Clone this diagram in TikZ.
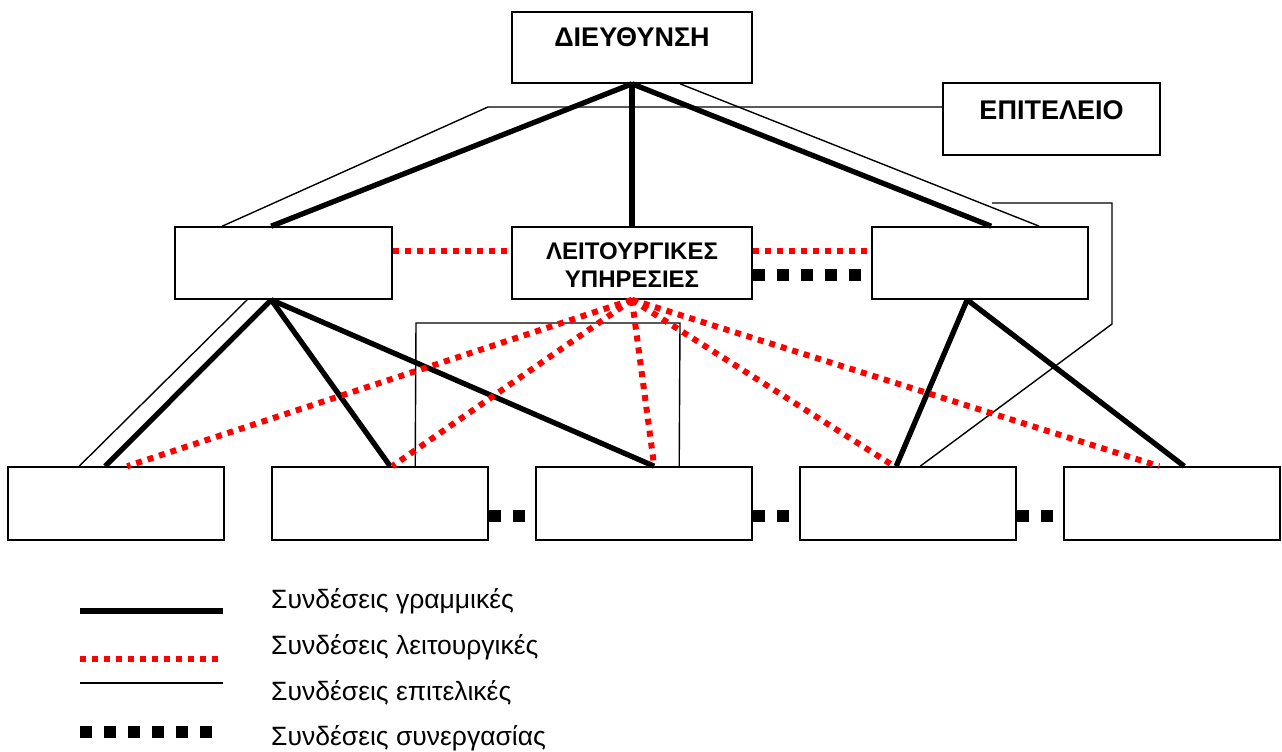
\documentclass[tikz,border=0pt]{standalone}
\usepackage{fontspec}
\setmainfont{Liberation Sans}
\usetikzlibrary{calc}
\begin{document}
\begin{tikzpicture}[x=1pt,y=-1pt,
  unit/.style={draw=black, line width=1.6pt, inner sep=0pt,
    minimum width=216pt, minimum height=72pt},
  wideunit/.style={unit, minimum width=240pt, minimum height=71pt},
  title/.style={font=\fontsize{27}{30}\selectfont\bfseries, align=center, inner sep=0pt},
  subtitle/.style={font=\fontsize{24}{27.5}\selectfont\bfseries, align=center, inner sep=0pt},
  legendtext/.style={font=\fontsize{26.5}{30}\selectfont, anchor=base west, inner sep=0pt},
  lineconn/.style={line width=5.3pt, black},
  funcconn/.style={line width=6pt, red, dash pattern=on 6pt off 6pt},
  staffconn/.style={line width=1.4pt, black},
  coopconn/.style={line width=12pt, black, dash pattern=on 12pt off 12pt}]

\useasboundingbox (0,0) rectangle (1282,752);

% units of the organisation
\node[wideunit] (dir) at (632,47.5) {};
\node[title] (dirtext) at (632,37.5) {ΔΙΕΥΘΥΝΣΗ};
\node[unit, minimum width=217pt] (staff) at (1051.5,119) {};
\node[title] (stafftext) at (1051.5,110) {ΕΠΙΤΕΛΕΙΟ};

\node[unit, minimum width=217pt] (lb) at (283.5,263) {};
\node[wideunit, minimum height=72pt] (fs) at (632,263) {};
\node[subtitle] (fstext) at (632,265) {ΛΕΙΤΟΥΡΓΙΚΕΣ\\ΥΠΗΡΕΣΙΕΣ};
\node[unit] (rb) at (980,263) {};

\node[unit, minimum height=73pt] (b1) at (116,503.5) {};
\node[unit, minimum height=73pt] (b2) at (380,503.5) {};
\node[unit, minimum height=73pt] (b3) at (644,503.5) {};
\node[unit, minimum height=73pt] (b4) at (908,503.5) {};
\node[unit, minimum height=73pt] (b5) at (1172,503.5) {};

% attachment points
\coordinate (dirS2) at ([xshift=48pt]dir.south);
\coordinate (lbN1) at ([xshift=48pt]lb.north west);
\coordinate (lbN2) at ([xshift=97pt]lb.north west);
\coordinate (rbN1) at ([xshift=120pt]rb.north west);
\coordinate (rbN2) at ([xshift=168pt]rb.north west);
\coordinate (lbS1) at ([xshift=73pt]lb.south west);
\coordinate (lbS2) at ([xshift=97pt]lb.south west);
\coordinate (rbS) at ([xshift=96pt]rb.south west);
\coordinate (b1a) at ([xshift=72pt]b1.north west);
\coordinate (b1b) at ([xshift=98pt]b1.north west);
\coordinate (b1c) at ([xshift=120pt]b1.north west);
\coordinate (b2a) at ([xshift=119pt]b2.north west);
\coordinate (b2b) at ([xshift=121pt]b2.north west);
\coordinate (b2c) at ([xshift=144pt]b2.north west);
\coordinate (b3a) at ([xshift=119pt]b3.north west);
\coordinate (b3c) at ([xshift=144pt]b3.north west);
\coordinate (b4a) at ([xshift=95pt]b4.north west);
\coordinate (b4b) at ([xshift=97pt]b4.north west);
\coordinate (b4c) at ([xshift=121pt]b4.north west);
\coordinate (b5a) at ([xshift=96pt]b5.north west);
\coordinate (b5b) at ([xshift=121pt]b5.north west);
\coordinate (stW) at ([yshift=12pt]staff.west);
\coordinate (stCorner) at (488,107);
\coordinate (rbHook) at (992,203);
\coordinate (rbHookR) at (1112,203);
\coordinate (rbHookD) at (1112,324);
\coordinate (brL) at (416,323);
\coordinate (brR) at (680,323);

% staff connections
\draw[staffconn] (stW) -- (stCorner) -- (lbN1);
\draw[staffconn] (dirS2) -- (rbN2);
\draw[staffconn] (rbHook) -- (rbHookR) -- (rbHookD) -- (b4c);
\draw[staffconn] (lbS1) -- (b1a);
\draw[staffconn] (b2c) -- (brL) -- (brR) -- (b3c);

% line connections
\draw[lineconn] (dir.south) -- (lbN2);
\draw[lineconn] (dir.south) -- (fs.north);
\draw[lineconn] (dir.south) -- (rbN1);
\draw[lineconn] (lbS2) -- (b1b);
\draw[lineconn] (lbS2) -- (b2a);
\draw[lineconn] (lbS2) -- (b3a);
\draw[lineconn] (rbS) -- (b4b);
\draw[lineconn] (rbS) -- (b5b);

% functional connections
\draw[funcconn] ([yshift=12pt]lb.east) -- ([yshift=12pt]fs.west);
\draw[funcconn] ([yshift=12pt]fs.east) -- ([yshift=12pt]rb.west);
\foreach \t in {b1c,b2b,b3a,b4a,b5a}
  \draw[funcconn] (fs.south) -- (\t);

% cooperation connections
\draw[coopconn] ([yshift=-12pt]fs.east) -- ([yshift=-12pt]rb.west);
\draw[coopconn] ([yshift=-12.5pt]b2.east) -- ([yshift=-12.5pt]b3.west);
\draw[coopconn] ([yshift=-12.5pt]b3.east) -- ([yshift=-12.5pt]b4.west);
\draw[coopconn] ([yshift=-12.5pt]b4.east) -- ([yshift=-12.5pt]b5.west);

% legend
\coordinate (k1a) at (80,611); \coordinate (k1b) at (223,611);
\coordinate (k2a) at (80,659); \coordinate (k2b) at (218,659);
\coordinate (k3a) at (80,683); \coordinate (k3b) at (223,683);
\coordinate (k4a) at (80,732); \coordinate (k4b) at (212,732);
\draw[lineconn] (k1a) -- (k1b);
\draw[funcconn] (k2a) -- (k2b);
\draw[staffconn] (k3a) -- (k3b);
\draw[coopconn] (k4a) -- (k4b);
\node[legendtext] (t1) at (271,608) {Συνδέσεις γραμμικές};
\node[legendtext] (t2) at (271,654) {Συνδέσεις λειτουργικές};
\node[legendtext] (t3) at (271,700) {Συνδέσεις επιτελικές};
\node[legendtext] (t4) at (271,745) {Συνδέσεις συνεργασίας};
\end{tikzpicture}
\end{document}
